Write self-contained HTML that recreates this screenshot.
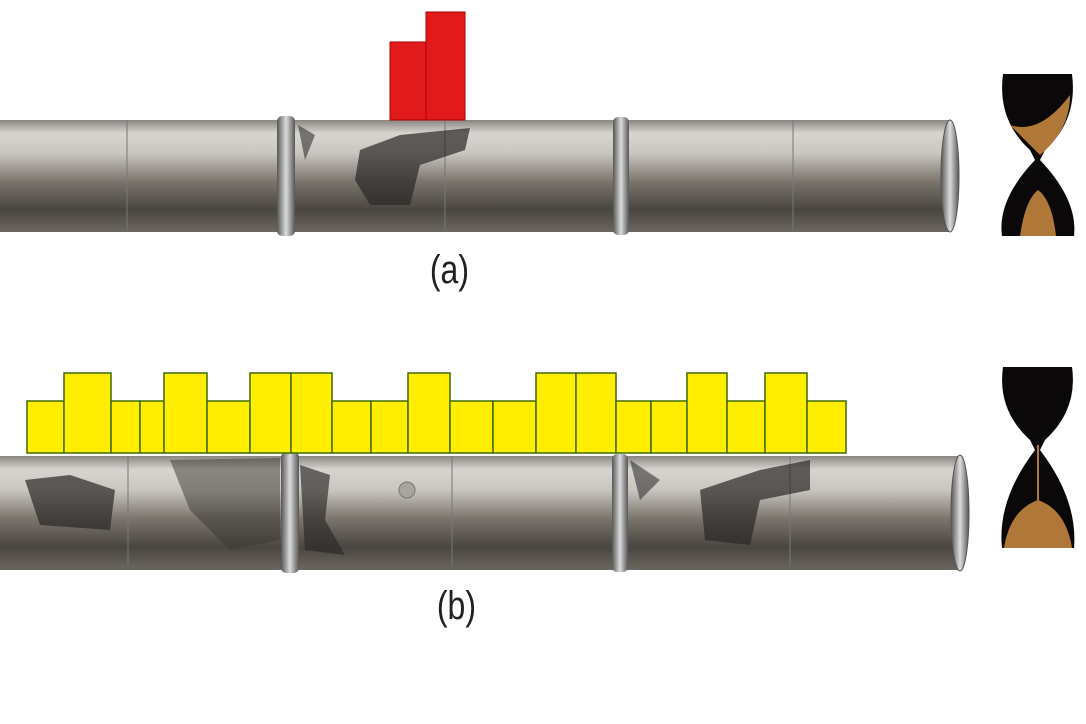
<!DOCTYPE html>
<html><head><style>
body{margin:0;width:1086px;height:724px;background:#fff;overflow:hidden;position:relative;font-family:"Liberation Sans",sans-serif}
.lbl{position:absolute;font-size:40px;color:#222;transform:scaleX(0.8);}
</style></head><body>
<svg width="1086" height="724" style="position:absolute;left:0;top:0">
<defs>
<linearGradient id="pg" x1="0" y1="0" x2="0" y2="1">
<stop offset="0" stop-color="#8a8580"/><stop offset="0.12" stop-color="#d8d5d0"/><stop offset="0.3" stop-color="#c9c5bf"/><stop offset="0.55" stop-color="#7a746c"/><stop offset="0.8" stop-color="#4a4540"/><stop offset="1" stop-color="#6c6660"/>
</linearGradient>
<linearGradient id="rg" x1="0" y1="0" x2="1" y2="0">
<stop offset="0" stop-color="#555"/><stop offset="0.5" stop-color="#ddd"/><stop offset="1" stop-color="#555"/>
</linearGradient>
</defs>
<!-- pipe a -->
<rect x="0" y="120" width="950" height="112" fill="url(#pg)"/>
<ellipse cx="950" cy="176" rx="9" ry="56" fill="url(#rg)" stroke="#555"/>
<rect x="277" y="116" width="18" height="120" rx="5" fill="url(#rg)"/>
<rect x="613" y="117" width="16" height="118" rx="5" fill="url(#rg)"/>
<line x1="127" y1="120" x2="127" y2="230" stroke="#777"/>
<line x1="445" y1="120" x2="445" y2="230" stroke="#777"/>
<line x1="793" y1="120" x2="793" y2="230" stroke="#777"/>
<path d="M360 150 L400 135 L470 128 L465 150 L420 165 L410 205 L370 205 L355 180Z" fill="#2a2826" opacity="0.7"/>
<path d="M298 125 L315 135 L305 160Z" fill="#333" opacity="0.6"/>
<!-- red bars -->
<rect x="390" y="42" width="36" height="78" fill="#e11b1b" stroke="#a00" stroke-width="1"/>
<rect x="426" y="12" width="39" height="108" fill="#e11b1b" stroke="#a00" stroke-width="1"/>
<!-- pipe b -->
<rect x="0" y="456" width="960" height="114" fill="url(#pg)"/>
<ellipse cx="960" cy="513" rx="9" ry="58" fill="url(#rg)" stroke="#555"/>
<rect x="281" y="452" width="18" height="121" rx="5" fill="url(#rg)"/>
<rect x="612" y="454" width="16" height="118" rx="5" fill="url(#rg)"/>
<line x1="128" y1="456" x2="128" y2="566" stroke="#777"/>
<line x1="452" y1="456" x2="452" y2="566" stroke="#777"/>
<line x1="790" y1="456" x2="790" y2="566" stroke="#777"/>
<path d="M25 480 L70 475 L115 490 L110 530 L40 525Z" fill="#2a2826" opacity="0.7"/>
<path d="M170 460 L280 458 L280 540 L230 550 L190 510Z" fill="#3a3632" opacity="0.5"/>
<path d="M300 465 L330 475 L325 520 L345 555 L305 550Z" fill="#2a2826" opacity="0.65"/>
<path d="M630 460 L660 480 L640 500Z" fill="#333" opacity="0.6"/>
<path d="M700 490 L760 470 L810 460 L810 490 L760 500 L750 545 L705 540Z" fill="#2a2826" opacity="0.7"/>
<circle cx="407" cy="490" r="8" fill="#a9a49e" stroke="#777"/>
<!-- yellow bars -->
<g fill="#ffee00" stroke="#3d6b00" stroke-width="1.5">
<rect x="27" y="401" width="37" height="52"/><rect x="64" y="373" width="47" height="80"/>
<rect x="111" y="401" width="29" height="52"/><rect x="140" y="401" width="24" height="52"/>
<rect x="164" y="373" width="43" height="80"/><rect x="207" y="401" width="43" height="52"/>
<rect x="250" y="373" width="41" height="80"/><rect x="291" y="373" width="41" height="80"/>
<rect x="332" y="401" width="39" height="52"/><rect x="371" y="401" width="37" height="52"/>
<rect x="408" y="373" width="42" height="80"/><rect x="450" y="401" width="43" height="52"/>
<rect x="493" y="401" width="43" height="52"/><rect x="536" y="373" width="40" height="80"/>
<rect x="576" y="373" width="40" height="80"/><rect x="616" y="401" width="35" height="52"/>
<rect x="651" y="401" width="36" height="52"/><rect x="687" y="373" width="40" height="80"/>
<rect x="727" y="401" width="38" height="52"/><rect x="765" y="373" width="42" height="80"/>
<rect x="807" y="401" width="39" height="52"/>
</g>
<!-- hourglass a -->
<path d="M1003 74 L1072 74 Q1078 120 1045 150 L1040 160 Q1078 200 1074 236 L1002 236 Q997 200 1035 160 L1030 150 Q997 120 1003 74Z" fill="#0a0808"/>
<path d="M1010 125 Q1040 135 1070 95 Q1070 130 1040 155Z" fill="#b07838"/>
<path d="M1020 236 Q1025 200 1038 190 Q1052 200 1056 236Z" fill="#b07838"/>
<!-- hourglass b -->
<path d="M1003 367 L1072 367 Q1078 410 1045 440 L1040 450 Q1078 500 1074 548 L1002 548 Q997 500 1035 450 L1030 440 Q997 410 1003 367Z" fill="#0a0808"/>
<path d="M1004 548 Q1010 510 1038 500 Q1066 510 1072 548Z" fill="#b07838"/>
<line x1="1038" y1="445" x2="1038" y2="505" stroke="#b07838" stroke-width="2"/>
</svg>
<div class="lbl" style="left:425px;top:248px">(a)</div>
<div class="lbl" style="left:432px;top:584px">(b)</div>
</body></html>
